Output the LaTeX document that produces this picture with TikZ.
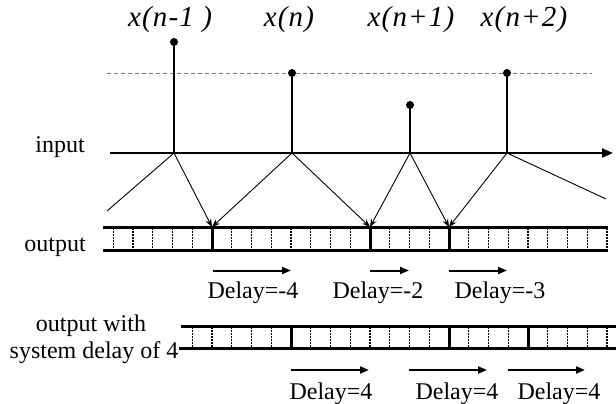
\documentclass[tikz,border=0pt]{standalone}
\usepackage{fontspec}
\setmainfont{Liberation Serif}
\usetikzlibrary{arrows.meta}
\begin{document}
\begin{tikzpicture}[x=1pt,y=-1pt,
  lbl/.style={font=\fontsize{24}{27}\selectfont, anchor=base, inner sep=0pt},
  ttl/.style={font=\fontsize{29}{32}\selectfont\itshape\addfontfeature{LetterSpace=4}, anchor=base, inner sep=0pt},
  stem/.style={line width=2pt},
  sample/.style={circle, fill, inner sep=0pt, minimum size=8pt},
  diagarr/.style={line width=0.9pt, -{Stealth[length=8pt,width=6pt]}},
  diagend/.style={line width=0.9pt},
  rail/.style={line width=3pt},
  divider/.style={line width=3pt},
  tick/.style={line width=1.4pt, dash pattern=on 1.5pt off 1.5pt},
  delayarr/.style={line width=2pt, -{Triangle[length=9pt,width=7pt]}},
]
\useasboundingbox (0,0) rectangle (616,404);

% sample labels
\node[ttl] (t1) at (170,27) {x(n-1 )};
\node[ttl] (t2) at (289,27) {x(n)};
\node[ttl] (t3) at (411,27) {x(n+1)};
\node[ttl] (t4) at (524,27) {x(n+2)};

% reference level
\coordinate (lvlL) at (107,73);
\coordinate (lvlR) at (592,73);
\draw[gray, line width=0.8pt, dash pattern=on 4pt off 3pt] (lvlL) -- (lvlR);

% input axis
\node[lbl] (inlbl) at (60,152) {input};
\coordinate (ax0) at (110,153);
\coordinate (axE) at (613,153);
\draw[line width=2pt, -{Triangle[length=11pt,width=9pt]}] (ax0) -- (axE);

% samples on the axis
\coordinate (a1) at (174,153);
\coordinate (a2) at (292,153);
\coordinate (a3) at (410,153);
\coordinate (a4) at (507,153);
\node[sample] (d1) at (174,42) {};
\node[sample] (d2) at (292,73) {};
\node[sample] (d3) at (410,105) {};
\node[sample] (d4) at (507,73) {};
\draw[stem] (a1) -- (d1.center);
\draw[stem] (a2) -- (d2.center);
\draw[stem] (a3) -- (d3.center);
\draw[stem] (a4) -- (d4.center);

% output strip
\node[lbl] (outlbl) at (55,251) {output};
\coordinate (o0) at (212,227);
\coordinate (o8) at (370,227);
\coordinate (o12) at (449,227);
\foreach \k in {-5,...,-1,1,2,...,7,9,10,11,13,14,...,20}
  \draw[tick] (212+19.75*\k,228) -- (212+19.75*\k,249);
\draw[rail] (103,227) -- (608,227);
\draw[rail] (103,250) -- (608,250);
\foreach \p in {o0,o8,o12}
  \draw[divider] (\p) -- ++(0,23);

% spreading of each sample onto the output
\coordinate (lend) at (107,211);
\coordinate (rend) at (606,199);
\draw[diagend] (a1) -- (lend);
\draw[diagarr] (a1) -- (o0);
\draw[diagarr] (a2) -- (o0);
\draw[diagarr] (a2) -- (o8);
\draw[diagarr] (a3) -- (o8);
\draw[diagarr] (a3) -- (o12);
\draw[diagarr] (a4) -- (o12);
\draw[diagend] (a4) -- (rend);

% delays of the output
\draw[delayarr] (213,270.5) -- (291,270.5);
\draw[delayarr] (370,270.5) -- (409,270.5);
\draw[delayarr] (449,270.5) -- (507,270.5);
\node[lbl] (dl1) at (253,298) {Delay=-4};
\node[lbl] (dl2) at (378,298) {Delay=-2};
\node[lbl] (dl3) at (500,298) {Delay=-3};

% output with system delay
\node[lbl] (swlbl1) at (91,331) {output with};
\node[lbl] (swlbl2) at (94,358) {system delay of 4};
\coordinate (s0) at (291,326);
\coordinate (s8) at (449,326);
\coordinate (s12) at (528,326);
\foreach \k in {-5,...,-1,1,2,...,7,9,10,11,13,14,15,16}
  \draw[tick] (291+19.75*\k,327) -- (291+19.75*\k,347);
\draw[rail] (181,326) -- (616,326);
\draw[rail] (179,348) -- (616,348);
\foreach \p in {s0,s8,s12}
  \draw[divider] (\p) -- ++(0,22);

\draw[delayarr] (291,370) -- (369,370);
\draw[delayarr] (409,370) -- (487,370);
\draw[delayarr] (508,370) -- (585,370);
\node[lbl] (ds1) at (331,399) {Delay=4};
\node[lbl] (ds2) at (457,399) {Delay=4};
\node[lbl] (ds3) at (559,399) {Delay=4};
\end{tikzpicture}
\end{document}
